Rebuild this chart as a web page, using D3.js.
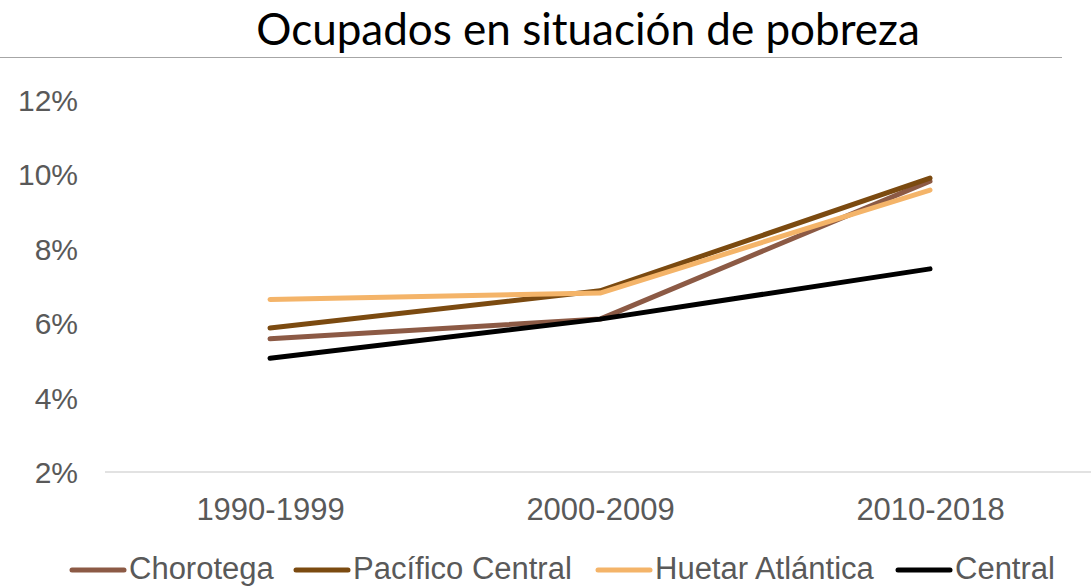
<!DOCTYPE html>
<html><head><meta charset="utf-8">
<script src="https://cdn.jsdelivr.net/npm/d3@7"></script>
<style>body{margin:0;background:#fff}svg{display:block}</style>
</head><body>
<svg id="chart" width="1091" height="586"></svg>
<script>
const categories = ["1990-1999", "2000-2009", "2010-2018"];
const seriesNames = ["Chorotega", "Pacífico Central", "Huetar Atlántica", "Central"];
const chorotega = [5.58, 6.11, 9.82];
const pacificoCentral = [5.87, 6.87, 9.90];
const huetarAtlantica = [6.64, 6.81, 9.58];
const central = [5.06, 6.11, 7.46];
const yTicks = [2, 4, 6, 8, 10, 12];
const colors = ["#8c5a45", "#7b4a10", "#f4b469", "#000000"];
const title = "Ocupados en situación de pobreza";

const allSeries = [chorotega, pacificoCentral, huetarAtlantica, central];
const svg = d3.select("#chart");
const x = d3.scalePoint().domain(categories).range([270, 930]);
const y = d3.scaleLinear().domain([2, 12]).range([472, 100]);
const labelFont = "'Liberation Sans', Arial, sans-serif";

// title + rule
svg.append("text").attr("x", 588).attr("y", 45).attr("text-anchor", "middle")
  .attr("font-family", "Lato, 'Open Sans', sans-serif").attr("font-size", 44).attr("fill", "#000")
  .text(title);
svg.append("line").attr("x1", 0).attr("x2", 1062).attr("y1", 57.5).attr("y2", 57.5)
  .attr("stroke", "#a6a6a6").attr("stroke-width", 1);

// y axis labels
const yAxis = d3.axisLeft(y).tickValues(yTicks).tickSize(0).tickPadding(0).tickFormat(d => d + "%");
const gy = svg.append("g").attr("transform", "translate(78,0)").call(yAxis);
gy.select(".domain").remove();
gy.selectAll("text").attr("font-family", labelFont).attr("font-size", 30).attr("fill", "#595959").attr("dy", "0.35em");

// baseline
svg.append("line").attr("x1", 105).attr("x2", 1091).attr("y1", y(2)).attr("y2", y(2))
  .attr("stroke", "#d9d9d9").attr("stroke-width", 1.5);

// x axis labels
const xAxis = d3.axisBottom(x).tickSize(0).tickPadding(0);
const gx = svg.append("g").attr("transform", "translate(0,509)").call(xAxis);
gx.select(".domain").remove();
gx.selectAll("text").attr("font-family", labelFont).attr("font-size", 31).attr("fill", "#595959").attr("dy", "0.35em");

// lines
const line = d3.line().x((d, i) => x(categories[i])).y(d => y(d));
allSeries.forEach((s, i) => {
  svg.append("path").datum(s).attr("d", line).attr("fill", "none")
    .attr("stroke", colors[i]).attr("stroke-width", 5)
    .attr("stroke-linecap", "round").attr("stroke-linejoin", "round");
});

// legend
const legendX = [72, 296, 598, 898];
seriesNames.forEach((n, i) => {
  const g = svg.append("g").attr("transform", `translate(${legendX[i]},570)`);
  g.append("line").attr("x1", 0).attr("x2", 52).attr("y1", 0).attr("y2", 0)
    .attr("stroke", colors[i]).attr("stroke-width", 5).attr("stroke-linecap", "round");
  g.append("text").attr("x", 57).attr("y", 0).attr("dy", "0.3em")
    .attr("font-family", labelFont).attr("font-size", 31).attr("fill", "#595959").text(n);
});
</script>
</body></html>
